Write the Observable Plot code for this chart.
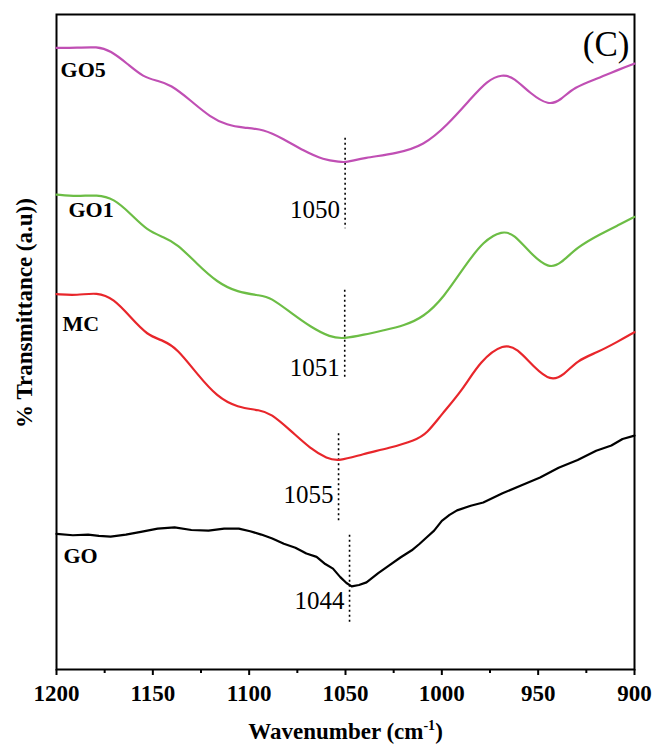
<!DOCTYPE html>
<html>
<head>
<meta charset="utf-8">
<script src="https://cdn.jsdelivr.net/npm/d3@7"></script>
<script src="https://cdn.jsdelivr.net/npm/@observablehq/plot@0.6"></script>
<style>
  html, body { margin: 0; padding: 0; background: white; }
  svg text { font-family: 'Liberation Serif', 'Times New Roman', serif; }
</style>
</head>
<body>
<div id="chart"></div>
<script>
// ---- Data ----
const seriesNames = ["GO5", "GO1", "MC", "GO"];
const seriesColors = ["#c04fb4", "#6cbd45", "#e8262b", "#000000"];

const go5Wave = [1200, 1189.3, 1178.9, 1172.0, 1163.3, 1154.8, 1147.7, 1140.8, 1130.5, 1120.1, 1111.4, 1102.9, 1092.6, 1082.2, 1071.8, 1061.4, 1052.6, 1050, 1040.5, 1023.2, 1009.4, 997.2, 985.1, 976.5, 968.7, 962.6, 954.0, 944.5, 938.4, 931.5, 919.4, 907.3, 900];
const go5T    = [94.9, 94.9, 95.1, 94.5, 92.5, 90.4, 89.9, 89.3, 86.9, 84.3, 83.1, 82.7, 82.5, 81.0, 79.2, 77.8, 77.5, 77.4, 78.1, 78.8, 80.0, 83.1, 87.1, 89.9, 90.9, 90.4, 87.9, 86.1, 86.9, 88.9, 90.2, 91.7, 92.5];

const go1Wave = [1200, 1189.3, 1178.9, 1170.3, 1161.6, 1152.9, 1144.3, 1137.4, 1127.0, 1116.6, 1106.2, 1094.1, 1088.9, 1078.5, 1068.2, 1057.8, 1050.9, 1040.5, 1030.1, 1019.7, 1009.4, 999.0, 988.6, 978.2, 968.7, 962.6, 954.0, 944.5, 938.4, 929.8, 917.6, 907.3, 900];
const go1T    = [72.5, 72.2, 72.5, 71.9, 69.6, 67.0, 66.0, 65.0, 61.9, 59.1, 57.6, 57.1, 56.8, 54.5, 52.3, 50.7, 50.5, 51.1, 51.8, 52.5, 53.8, 56.8, 61.4, 65.5, 67.0, 66.5, 63.5, 61.2, 61.9, 64.5, 66.5, 68.0, 69.1];

const mcWave = [1200, 1189.3, 1178.9, 1170.3, 1161.6, 1152.9, 1144.3, 1137.4, 1127.0, 1116.6, 1106.2, 1094.1, 1088.9, 1078.5, 1068.2, 1059.5, 1053.5, 1041.0, 1027.3, 1013.7, 1007.8, 1000.0, 989.4, 979.9, 967.8, 960.9, 952.3, 943.6, 936.7, 929.8, 919.4, 909.0, 900];
const mcT    = [57.3, 57.1, 57.6, 56.6, 53.8, 51.0, 50.2, 49.0, 45.1, 41.6, 40.0, 39.6, 39.1, 36.5, 33.7, 32.2, 31.8, 32.9, 33.8, 35.0, 36.0, 39.0, 42.6, 47.2, 49.8, 49.0, 46.2, 44.0, 44.9, 47.2, 48.4, 50.0, 51.5];

const goWave = [1200, 1191.5, 1183.6, 1178.0, 1171.9, 1164.0, 1156.2, 1147.5, 1138.7, 1130.0, 1121.1, 1113.0, 1105.4, 1099.5, 1093.7, 1088.0, 1082.0, 1076.0, 1070.3, 1065.0, 1060.5, 1056.5, 1052.7, 1049.5, 1046.8, 1043.0, 1039.1, 1033.0, 1027.3, 1021.5, 1015.6, 1011.5, 1007.8, 1004.0, 1000.0, 996.0, 992.1, 985.0, 978.5, 968.5, 958.9, 949.0, 939.4, 929.5, 919.9, 912.0, 906.2, 900];
const goT    = [20.7, 20.5, 20.6, 20.4, 20.3, 20.6, 21.0, 21.5, 21.7, 21.3, 21.2, 21.5, 21.5, 21.1, 20.6, 20.0, 19.2, 18.6, 17.7, 17.2, 16.1, 15.4, 14.1, 13.2, 12.7, 12.9, 13.3, 14.7, 15.9, 17.1, 18.2, 19.2, 20.2, 21.2, 22.7, 23.6, 24.3, 25.0, 25.5, 26.9, 28.1, 29.3, 30.8, 32.0, 33.4, 34.2, 35.2, 35.7];

// peak markers: wavenumber of the dotted line, its extent, label
const peakLabels = ["1050", "1051", "1055", "1044"];
const peakWave   = [1050.2, 1050.4, 1053.6, 1047.9];
const peakTop    = [81.1, 57.9, 36.0, 20.5];
const peakBottom = [67.3, 44.4, 22.6, 7.0];
const peakTextT  = [70.1, 46.0, 26.6, 10.5];

// series label anchors
const nameWave = [1197.9, 1193.8, 1196.9, 1196.4];
const nameT    = [91.5, 70.1, 52.7, 17.4];

const xTicks = [1200, 1150, 1100, 1050, 1000, 950, 900];
const xMinorTicks = [1175, 1125, 1075, 1025, 975, 925];

const panelLabel = "(C)";
const xLabel = "Wavenumber (cm-1)";
const yLabel = "% Transmittance (a.u))";

// ---- Build tables ----
const waves = [go5Wave, go1Wave, mcWave, goWave];
const trans = [go5T, go1T, mcT, goT];
const rows = [];
seriesNames.forEach((s, i) => {
  waves[i].forEach((w, j) => rows.push({s, w, t: trans[i][j]}));
});
const peaks = peakLabels.map((label, i) => ({label, w: peakWave[i], y1: peakTop[i], y2: peakBottom[i], ty: peakTextT[i]}));
const names = seriesNames.map((s, i) => ({s, w: nameWave[i], t: nameT[i]}));

const serif = "Liberation Serif";

const chart = Plot.plot({
  width: 654,
  height: 745,
  marginLeft: 56,
  marginRight: 20,
  marginTop: 14,
  marginBottom: 76,
  style: {fontFamily: serif, background: "white", color: "black"},
  x: {domain: [1200, 900]},
  y: {domain: [0, 100], axis: null},
  color: {domain: seriesNames, range: seriesColors},
  marks: [
    Plot.axisX(xMinorTicks, {tickSize: 4, strokeWidth: 2, tickFormat: () => "", label: null}),
    Plot.axisX(xTicks, {tickSize: 6, tickPadding: 9, strokeWidth: 2, fontSize: 23, fontWeight: "bold", fontFamily: serif, tickFormat: d => String(d), label: null}),
    Plot.frame({stroke: "black", strokeWidth: 2}),
    Plot.ruleX(peaks, {x: "w", y1: "y1", y2: "y2", stroke: "black", strokeWidth: 1.6, strokeDasharray: "2,3"}),
    Plot.line(rows.filter(d => d.s !== "GO"), {x: "w", y: "t", z: "s", stroke: "s", curve: "basis", strokeWidth: 2.2}),
    Plot.line(rows.filter(d => d.s === "GO"), {x: "w", y: "t", stroke: "s", curve: "linear", strokeWidth: 2.2, strokeLinejoin: "round"}),
    Plot.text(peaks, {x: "w", y: "ty", text: "label", textAnchor: "end", dx: -5, fontSize: 25, fontFamily: serif, fill: "black"}),
    Plot.text(names, {x: "w", y: "t", text: "s", textAnchor: "start", fontSize: 22, fontWeight: "bold", fontFamily: serif, fill: "black"}),
    Plot.text([panelLabel], {frameAnchor: "top-right", text: d => d, textAnchor: "end", lineAnchor: "middle", dx: -5, dy: 30, fontSize: 35, fontFamily: serif, fill: "black"}),
    Plot.text([xLabel], {frameAnchor: "bottom", text: d => d, textAnchor: "middle", lineAnchor: "middle", dy: 62, fontSize: 23, fontWeight: "bold", fontFamily: serif, fill: "black"}),
    Plot.text([yLabel], {frameAnchor: "left", text: d => d, rotate: -90, textAnchor: "middle", lineAnchor: "middle", dx: -32, dy: -29, fontSize: 23, fontWeight: "bold", fontFamily: serif, fill: "black"})
  ]
});

document.getElementById("chart").appendChild(chart);

// superscript for the x label
chart.querySelectorAll("text").forEach(t => {
  if (t.textContent === xLabel) {
    const target = t.querySelector("tspan") || t;
    target.textContent = "";
    const ns = "http://www.w3.org/2000/svg";
    const a = document.createElementNS(ns, "tspan");
    a.textContent = "Wavenumber (cm";
    const b = document.createElementNS(ns, "tspan");
    b.textContent = "-1";
    b.setAttribute("dy", "-9");
    b.setAttribute("font-size", "14");
    const c = document.createElementNS(ns, "tspan");
    c.textContent = ")";
    c.setAttribute("dy", "9");
    target.appendChild(a); target.appendChild(b); target.appendChild(c);
  }
});
</script>
</body>
</html>
